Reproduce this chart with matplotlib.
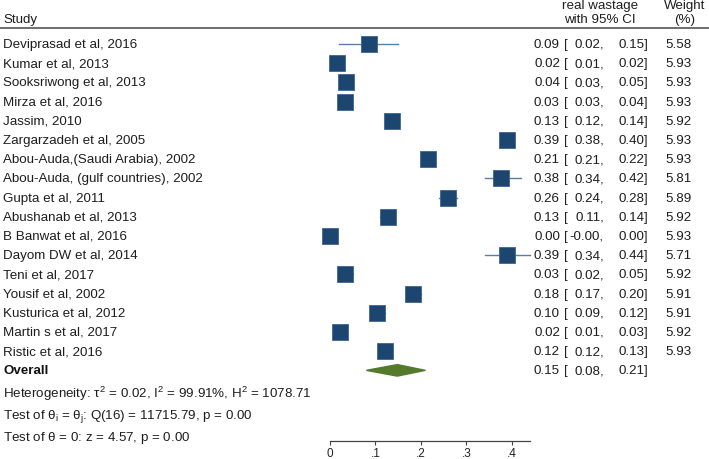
import numpy as np
import matplotlib.pyplot as plt
import matplotlib.transforms as mtransforms

plt.rcParams['font.family'] = ['Liberation Sans', 'DejaVu Sans']
plt.rcParams['mathtext.fontset'] = 'custom'
plt.rcParams['mathtext.rm'] = 'Liberation Sans'
plt.rcParams['mathtext.it'] = 'Liberation Sans'

studies = ['Deviprasad et al, 2016', 'Kumar et al, 2013', 'Sooksriwong et al, 2013',
           'Mirza et al, 2016', 'Jassim, 2010', 'Zargarzadeh et al, 2005',
           'Abou-Auda,(Saudi Arabia), 2002', 'Abou-Auda, (gulf countries), 2002',
           'Gupta et al, 2011', 'Abushanab et al, 2013', 'B Banwat et al, 2016',
           'Dayom DW et al, 2014', 'Teni et al, 2017', 'Yousif et al, 2002',
           'Kusturica et al, 2012', 'Martin s et al, 2017', 'Ristic et al, 2016']
est = [0.086, 0.015, 0.035, 0.033, 0.136, 0.39, 0.215, 0.376, 0.26, 0.127,
       0.0, 0.39, 0.033, 0.182, 0.103, 0.022, 0.121]
lo = [0.02, 0.01, 0.03, 0.03, 0.12, 0.38, 0.21, 0.34, 0.24, 0.11,
      -0.00, 0.34, 0.02, 0.17, 0.09, 0.01, 0.12]
hi = [0.15, 0.02, 0.05, 0.04, 0.14, 0.40, 0.22, 0.42, 0.28, 0.14,
      0.00, 0.44, 0.05, 0.20, 0.12, 0.03, 0.13]
est_txt = ['0.09', '0.02', '0.04', '0.03', '0.13', '0.39', '0.21', '0.38', '0.26', '0.13',
           '0.00', '0.39', '0.03', '0.18', '0.10', '0.02', '0.12']
lo_txt = ['0.02', '0.01', '0.03', '0.03', '0.12', '0.38', '0.21', '0.34', '0.24', '0.11',
          '-0.00', '0.34', '0.02', '0.17', '0.09', '0.01', '0.12']
hi_txt = ['0.15', '0.02', '0.05', '0.04', '0.14', '0.40', '0.22', '0.42', '0.28', '0.14',
          '0.00', '0.44', '0.05', '0.20', '0.12', '0.03', '0.13']
weights = ['5.58', '5.93', '5.93', '5.93', '5.92', '5.93', '5.93', '5.81', '5.89', '5.92',
           '5.93', '5.71', '5.92', '5.91', '5.91', '5.92', '5.93']
overall = 0.148
overall_lo = 0.08
overall_hi = 0.21

W, H = 709, 460
fig = plt.figure(figsize=(W / 100, H / 100), dpi=100)

def px(x):
    return x / W

ax = fig.add_axes([330 / W, 18 / H, 200 / W, (442 - 29) / H])
ax.set_xlim(0, 0.44)
ax.set_ylim(20.68, -0.833)

sq = '#1c4670'
for i in range(len(studies)):
    ax.plot([lo[i], hi[i]], [i, i], color='#5a7ea6', lw=1.0, clip_on=False, zorder=2)
    ms = 11.5 * np.sqrt(float(weights[i]) / 5.93)
    ax.plot(est[i], i, marker='s', ms=ms, color=sq, mec='#3d6590', mew=0.6,
            clip_on=False, zorder=3)

n = len(studies)
dy = 0.3
ax.fill([overall_lo, overall, overall_hi, overall],
        [n, n - dy, n, n + dy], color='#557a2c', clip_on=False, zorder=3)

for s in ['top', 'right', 'left']:
    ax.spines[s].set_visible(False)
ax.spines['bottom'].set_color('#444444')
ax.spines['bottom'].set_linewidth(0.9)
ax.set_yticks([])
ax.set_xticks([0, 0.1, 0.2, 0.3, 0.4])
ax.set_xticklabels(['0', '.1', '.2', '.3', '.4'])
ax.tick_params(axis='x', length=3, width=0.8, color='#444444', labelsize=8.5,
               labelcolor='#222222', pad=1)

tr = mtransforms.blended_transform_factory(fig.transFigure, ax.transData)
fs = 9.6
tc = '#1e1e1e'
for i in range(n):
    ax.text(px(3), i, studies[i], transform=tr, fontsize=fs, color=tc, va='center')
    ax.text(px(560), i, est_txt[i], transform=tr, fontsize=fs, color=tc, va='center', ha='right')
    ax.text(px(564), i, '[', transform=tr, fontsize=fs, color=tc, va='center')
    ax.text(px(604), i, lo_txt[i] + ',', transform=tr, fontsize=fs, color=tc, va='center', ha='right')
    ax.text(px(648), i, hi_txt[i] + ']', transform=tr, fontsize=fs, color=tc, va='center', ha='right')
    ax.text(px(692), i, weights[i], transform=tr, fontsize=fs, color=tc, va='center', ha='right')

ax.text(px(3), n, 'Overall', transform=tr, fontsize=fs, color='#111111', va='center',
        fontweight='bold')
ax.text(px(560), n, '0.15', transform=tr, fontsize=fs, color=tc, va='center', ha='right')
ax.text(px(564), n, '[', transform=tr, fontsize=fs, color=tc, va='center')
ax.text(px(604), n, '0.08,', transform=tr, fontsize=fs, color=tc, va='center', ha='right')
ax.text(px(648), n, '0.21]', transform=tr, fontsize=fs, color=tc, va='center', ha='right')

ax.text(px(3), 18.2, r'Heterogeneity: $\tau^2$ = 0.02, I$^2$ = 99.91%, H$^2$ = 1078.71',
        transform=tr, fontsize=fs, color=tc, va='center')
ax.text(px(3), 19.33, r'Test of $\theta_\mathrm{i}$ = $\theta_\mathrm{j}$: Q(16) = 11715.79, p = 0.00',
        transform=tr, fontsize=fs, color=tc, va='center')
ax.text(px(3), 20.45, r'Test of $\theta$ = 0: z = 4.57, p = 0.00',
        transform=tr, fontsize=fs, color=tc, va='center')

# header
fig.text(px(3), 1 - 20 / H, 'Study', fontsize=fs, color=tc, va='center')
fig.text(px(600), 1 - 6 / H, 'real wastage', fontsize=fs, color=tc, va='center', ha='center')
fig.text(px(600), 1 - 20 / H, 'with 95% CI', fontsize=fs, color=tc, va='center', ha='center')
fig.text(px(685), 1 - 6 / H, 'Weight', fontsize=fs, color=tc, va='center', ha='center')
fig.text(px(685), 1 - 20 / H, '(%)', fontsize=fs, color=tc, va='center', ha='center')
fig.add_artist(plt.Line2D([0, 1], [1 - 29 / H, 1 - 29 / H], transform=fig.transFigure,
                          color='#555555', lw=1.2))

fig.savefig('out.png', dpi=100)
